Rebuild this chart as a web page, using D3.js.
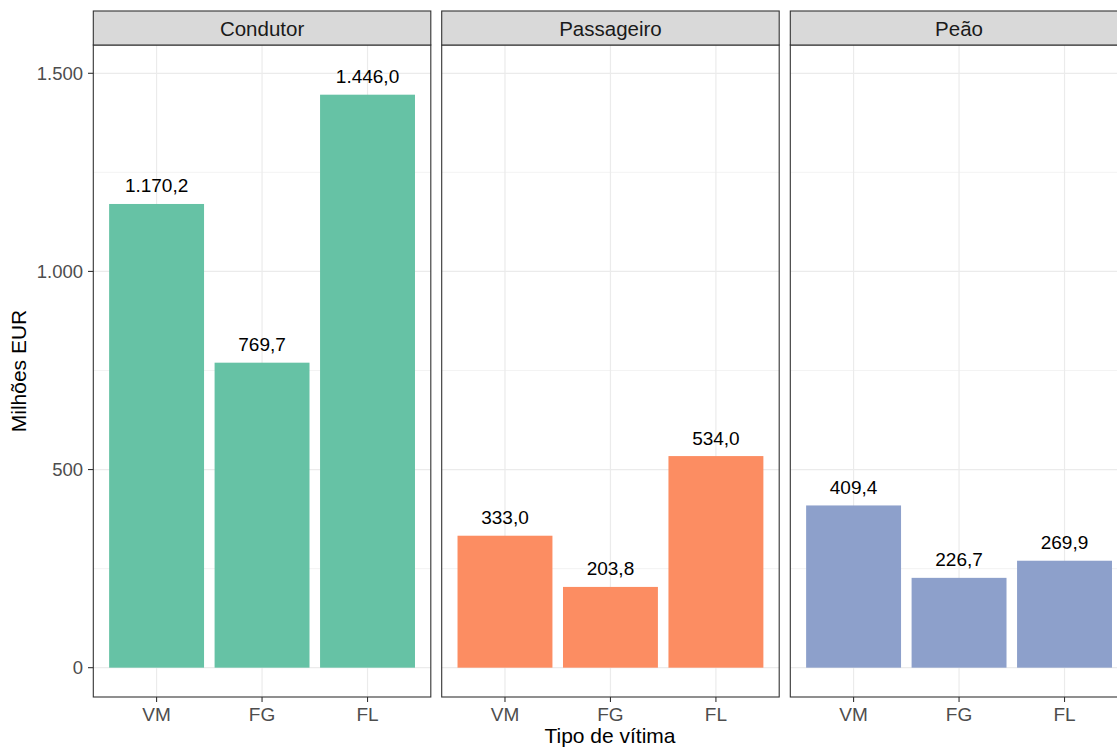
<!DOCTYPE html>
<html><head><meta charset="utf-8">
<script src="https://cdn.jsdelivr.net/npm/d3@7"></script>
<style>body{margin:0;background:#fff}svg{display:block}text{font-family:"Liberation Sans",Arial,sans-serif}</style>
</head><body>
<script>
const panels = ["Condutor", "Passageiro", "Peão"];
const categories = ["VM", "FG", "FL"];
const condutor = [1170.2, 769.7, 1446.0];
const passageiro = [333.0, 203.8, 534.0];
const peao = [409.4, 226.7, 269.9];
const colors = ["#66c2a5", "#fc8d62", "#8da0cb"];
const yTicks = [0, 500, 1000, 1500];
const yMinor = [250, 750, 1250];
const seriesByPanel = [condutor, passageiro, peao];

const W = 1117, H = 747;
const svg = d3.select("body").append("svg").attr("width", W).attr("height", H);
const fmt = v => { const s = v.toFixed(1).split("."); return s[0].replace(/\B(?=(\d{3})+(?!\d))/g, ".") + "," + s[1]; };
const fmtTick = v => String(v).replace(/\B(?=(\d{3})+(?!\d))/g, ".");

const stripTop = 11, stripBot = 45, plotBot = 697;
const panelX = [93.3, 441.7, 790.3], panelW = 337.5;
const y = d3.scaleLinear().domain([-74, 1571.4]).range([plotBot, stripBot]);

panels.forEach((p, i) => {
  const x0 = panelX[i];
  const g = svg.append("g").attr("transform", `translate(${x0},0)`);
  const x = d3.scalePoint().domain(categories).range([0, panelW]).padding(0.6);
  const step = x.step();
  const cx = c => x(c);
  // grid
  g.selectAll(".ymin").data(yMinor).join("line").attr("x1", 0).attr("x2", panelW)
    .attr("y1", d => y(d)).attr("y2", d => y(d)).attr("stroke", "#ebebeb").attr("stroke-width", 0.6);
  g.selectAll(".ymaj").data(yTicks).join("line").attr("x1", 0).attr("x2", panelW)
    .attr("y1", d => y(d)).attr("y2", d => y(d)).attr("stroke", "#ebebeb").attr("stroke-width", 1.2);
  g.selectAll(".xmaj").data(categories).join("line").attr("x1", cx).attr("x2", cx)
    .attr("y1", stripBot).attr("y2", plotBot).attr("stroke", "#ebebeb").attr("stroke-width", 1.2);
  // bars
  const vals = seriesByPanel[i];
  const bw = step * 0.9;
  g.selectAll(".bar").data(categories).join("rect")
    .attr("x", c => cx(c) - bw / 2).attr("width", bw)
    .attr("y", (c, k) => y(vals[k])).attr("height", (c, k) => y(0) - y(vals[k]))
    .attr("fill", colors[i]);
  g.selectAll(".lbl").data(categories).join("text")
    .attr("x", cx).attr("y", (c, k) => y(vals[k]) - 11.5)
    .attr("text-anchor", "middle").attr("font-size", 19).attr("fill", "#000")
    .text((c, k) => fmt(vals[k]));
  // panel border
  g.append("rect").attr("x", 0).attr("y", stripBot).attr("width", panelW).attr("height", plotBot - stripBot)
    .attr("fill", "none").attr("stroke", "#333333").attr("stroke-width", 1.1);
  // strip
  g.append("rect").attr("x", 0).attr("y", stripTop).attr("width", panelW).attr("height", stripBot - stripTop)
    .attr("fill", "#d9d9d9").attr("stroke", "#333333").attr("stroke-width", 1.1);
  g.append("text").attr("x", panelW / 2).attr("y", (stripTop + stripBot) / 2 + 0.5).attr("dy", "0.35em")
    .attr("text-anchor", "middle").attr("font-size", 20.5).attr("fill", "#1a1a1a").text(p);
  // x axis
  g.selectAll(".xt").data(categories).join("line").attr("x1", cx).attr("x2", cx)
    .attr("y1", plotBot).attr("y2", plotBot + 5).attr("stroke", "#333333").attr("stroke-width", 1.1);
  g.selectAll(".xl").data(categories).join("text").attr("x", cx).attr("y", plotBot + 24)
    .attr("text-anchor", "middle").attr("font-size", 19).attr("fill", "#4d4d4d").text(c => c);
});

// y axis
const ya = svg.append("g");
ya.selectAll("line").data(yTicks).join("line").attr("x1", 88).attr("x2", 93.3)
  .attr("y1", d => y(d)).attr("y2", d => y(d)).attr("stroke", "#333333").attr("stroke-width", 1.1);
ya.selectAll("text").data(yTicks).join("text").attr("x", 83).attr("y", d => y(d)).attr("dy", "0.35em")
  .attr("text-anchor", "end").attr("font-size", 18.5).attr("fill", "#4d4d4d").text(fmtTick);

svg.append("text").attr("transform", `translate(26,${(stripBot + plotBot) / 2}) rotate(-90)`)
  .attr("text-anchor", "middle").attr("font-size", 21).attr("fill", "#000").text("Milhões EUR");
svg.append("text").attr("x", 610).attr("y", 743).attr("text-anchor", "middle")
  .attr("font-size", 21).attr("fill", "#000").text("Tipo de vítima");
</script>
</body></html>
